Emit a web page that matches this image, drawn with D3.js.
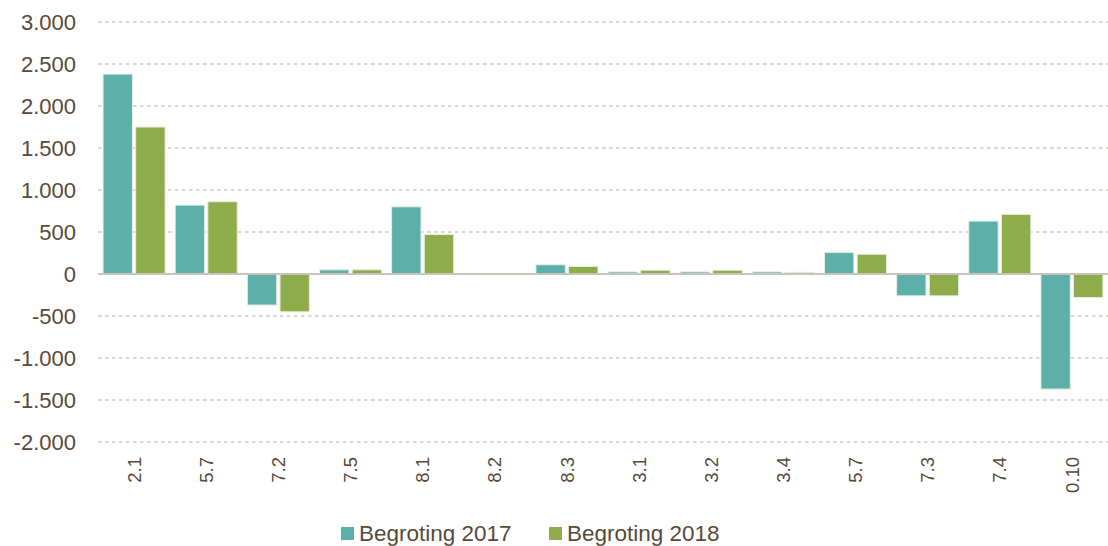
<!DOCTYPE html>
<html>
<head>
  <meta charset="utf-8">
  <script src="https://d3js.org/d3.v7.min.js"></script>
  <style>
    body { margin: 0; background: #fff; }
    text { font-family: "Liberation Sans", Arial, sans-serif; fill: #59493a; }
    .grid line { stroke: #d3ccc2; stroke-dasharray: 3.5 3.5; stroke-width: 1.5; }
  </style>
</head>
<body>
  <script>
    // categories and values
    const categories = ["2.1", "5.7", "7.2", "7.5", "8.1", "8.2", "8.3", "3.1", "3.2", "3.4", "5.7", "7.3", "7.4", "0.10"];
    const series2017 = [2380, 820, -370, 50, 800, 8, 110, 25, 25, 25, 255, -260, 630, -1370];
    const series2018 = [1750, 860, -450, 50, 470, 8, 90, 45, 45, 20, 235, -260, 710, -280];
    const seriesNames = ["Begroting 2017", "Begroting 2018"];
    const colors = ["#5db0aa", "#8fac4b"];
    const yTicks = [3000, 2500, 2000, 1500, 1000, 500, 0, -500, -1000, -1500, -2000];

    const width = 1108;
    const height = 546;
    const margin = { top: 22, right: 0, bottom: 104, left: 98 };

    const svg = d3.select("body")
      .append("svg")
      .attr("width", width)
      .attr("height", height);

    // x uses index so the repeated "5.7" gets its own slot
    const x = d3.scaleBand()
      .domain(d3.range(categories.length))
      .range([margin.left, width - margin.right])
      .paddingInner(0.14)
      .paddingOuter(0.07);

    const x1 = d3.scaleBand()
      .domain([0, 1])
      .range([0, x.bandwidth()])
      .paddingInner(0.1);

    const y = d3.scaleLinear()
      .domain([-2000, 3000])
      .range([height - margin.bottom, margin.top]);

    // gridlines
    svg.append("g")
      .attr("class", "grid")
      .selectAll("line")
      .data(yTicks.filter(d => d !== 0))
      .join("line")
      .attr("x1", margin.left)
      .attr("x2", width - margin.right)
      .attr("y1", d => y(d))
      .attr("y2", d => y(d));

    // y tick labels, dutch thousands separator and plain hyphen
    const fmt = d => (d < 0 ? "-" : "") + d3.format(",")(Math.abs(d)).replace(/,/g, ".");
    svg.append("g")
      .selectAll("text")
      .data(yTicks)
      .join("text")
      .attr("x", 76)
      .attr("y", d => y(d))
      .attr("dy", "0.36em")
      .attr("text-anchor", "end")
      .attr("font-size", 22)
      .text(fmt);

    // bars
    const rows = categories.map((c, i) => [series2017[i], series2018[i]]);
    const groups = svg.append("g")
      .selectAll("g")
      .data(rows)
      .join("g")
      .attr("transform", (d, i) => `translate(${x(i)},0)`);

    groups.selectAll("rect")
      .data(d => d)
      .join("rect")
      .attr("x", (d, j) => x1(j))
      .attr("width", x1.bandwidth())
      .attr("y", d => y(Math.max(0, d)))
      .attr("height", d => Math.abs(y(d) - y(0)))
      .attr("fill", (d, j) => colors[j])
      .attr("stroke", "#e6efe0")
      .attr("stroke-width", 1);

    // zero line
    svg.append("line")
      .attr("x1", margin.left)
      .attr("x2", width - margin.right)
      .attr("y1", y(0))
      .attr("y2", y(0))
      .attr("stroke", "#c9c4bb")
      .attr("stroke-width", 2);

    // x tick labels, rotated
    svg.append("g")
      .selectAll("text")
      .data(categories)
      .join("text")
      .attr("transform", (d, i) => `translate(${x(i) + x.bandwidth() / 2},457) rotate(-90)`)
      .attr("dy", "0.36em")
      .attr("text-anchor", "end")
      .attr("font-size", 18.5)
      .text(d => d);

    // legend
    const legend = svg.append("g")
      .selectAll("g")
      .data(seriesNames)
      .join("g")
      .attr("transform", (d, i) => `translate(${341 + i * 208},527)`);

    legend.append("rect")
      .attr("width", 13)
      .attr("height", 13)
      .attr("fill", (d, i) => colors[i]);

    legend.append("text")
      .attr("x", 18)
      .attr("y", 14)
      .attr("font-size", 22.5)
      .text(d => d);
  </script>
</body>
</html>
